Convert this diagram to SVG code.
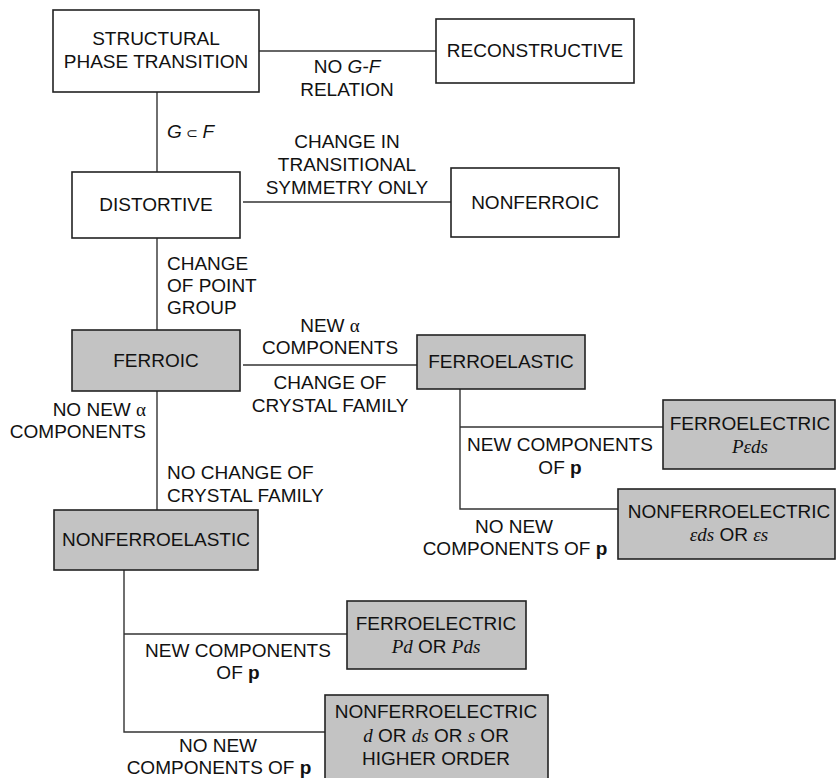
<svg xmlns="http://www.w3.org/2000/svg" width="837" height="778" viewBox="0 0 837 778">
  <style>
    .box { fill: #ffffff; stroke: #222222; stroke-width: 1.6; }
    .shaded { fill: #c3c3c3; stroke: #222222; stroke-width: 1.6; }
    .link { stroke: #333333; stroke-width: 1.4; fill: none; }
    text { font-family: "Liberation Sans", Arial, sans-serif; font-size: 19px; fill: #111111; }
    .mid { text-anchor: middle; }
    .end { text-anchor: end; }
    .math { font-family: "Liberation Serif", "Times New Roman", serif; font-style: italic; }
    .greek { font-family: "Liberation Serif", "Times New Roman", serif; }
    .it { font-style: italic; }
    .bold { font-weight: bold; }
  </style>

  <!-- connectors -->
  <g id="connectors">
    <line class="link" x1="259" y1="51" x2="436" y2="51"/>
    <line class="link" x1="157" y1="92" x2="157" y2="172"/>
    <line class="link" x1="243" y1="202" x2="451" y2="202"/>
    <line class="link" x1="157" y1="238" x2="157" y2="330"/>
    <line class="link" x1="243" y1="365" x2="417" y2="365"/>
    <line class="link" x1="157" y1="391" x2="157" y2="510"/>
    <polyline class="link" points="460,389 460,509 618,509"/>
    <line class="link" x1="460" y1="427" x2="663" y2="427"/>
    <polyline class="link" points="124,570 124,732 325,732"/>
    <line class="link" x1="124" y1="634" x2="347" y2="634"/>
  </g>

  <!-- connector labels -->
  <g id="labels">
    <text class="mid" x="347" y="73">NO <tspan class="it">G-F</tspan></text>
    <text class="mid" x="347" y="96">RELATION</text>

    <text x="167" y="138"><tspan class="it">G</tspan><tspan font-family="DejaVu Sans, sans-serif" font-size="14"> ⊂ </tspan><tspan class="it">F</tspan></text>

    <text class="mid" x="347" y="148">CHANGE IN</text>
    <text class="mid" x="347" y="171">TRANSITIONAL</text>
    <text class="mid" x="347" y="194">SYMMETRY ONLY</text>

    <text x="167" y="270">CHANGE</text>
    <text x="167" y="292">OF POINT</text>
    <text x="167" y="314">GROUP</text>

    <text class="mid" x="330" y="332">NEW <tspan class="greek">α</tspan></text>
    <text class="mid" x="330" y="354">COMPONENTS</text>
    <text class="mid" x="330" y="389">CHANGE OF</text>
    <text class="mid" x="330" y="412">CRYSTAL FAMILY</text>

    <text class="end" x="146" y="416">NO NEW <tspan class="greek">α</tspan></text>
    <text class="end" x="146" y="438">COMPONENTS</text>

    <text x="167" y="479">NO CHANGE OF</text>
    <text x="167" y="502">CRYSTAL FAMILY</text>

    <text class="mid" x="560" y="451">NEW COMPONENTS</text>
    <text class="mid" x="560" y="474">OF <tspan class="bold">p</tspan></text>

    <text class="mid" x="514" y="533">NO NEW</text>
    <text class="mid" x="515" y="555">COMPONENTS OF <tspan class="bold">p</tspan></text>

    <text class="mid" x="238" y="657">NEW COMPONENTS</text>
    <text class="mid" x="238" y="679">OF <tspan class="bold">p</tspan></text>

    <text class="mid" x="218" y="752">NO NEW</text>
    <text class="mid" x="219" y="774">COMPONENTS OF <tspan class="bold">p</tspan></text>
  </g>

  <!-- nodes -->
  <g id="structural">
    <rect class="box" x="53" y="10" width="206" height="82"/>
    <text class="mid" x="156" y="45">STRUCTURAL</text>
    <text class="mid" x="156" y="68">PHASE TRANSITION</text>
  </g>

  <g id="reconstructive">
    <rect class="box" x="436" y="19" width="198" height="64"/>
    <text class="mid" x="535" y="57">RECONSTRUCTIVE</text>
  </g>

  <g id="distortive">
    <rect class="box" x="72" y="172" width="168" height="66"/>
    <text class="mid" x="156" y="211">DISTORTIVE</text>
  </g>

  <g id="nonferroic">
    <rect class="box" x="451" y="168" width="168" height="69"/>
    <text class="mid" x="535" y="209">NONFERROIC</text>
  </g>

  <g id="ferroic">
    <rect class="shaded" x="72" y="330" width="168" height="61"/>
    <text class="mid" x="156" y="367">FERROIC</text>
  </g>

  <g id="ferroelastic">
    <rect class="shaded" x="417" y="335" width="168" height="54"/>
    <text class="mid" x="501" y="368">FERROELASTIC</text>
  </g>

  <g id="ferroelectric-elastic">
    <rect class="shaded" x="663" y="400" width="172" height="69"/>
    <text class="mid" x="750" y="430">FERROELECTRIC</text>
    <text class="mid math" x="750" y="453">Pεds</text>
  </g>

  <g id="nonferroelectric-elastic">
    <rect class="shaded" x="618" y="489" width="217" height="70"/>
    <text class="mid" x="729" y="518">NONFERROELECTRIC</text>
    <text class="mid" x="729" y="541"><tspan class="math">εds</tspan> OR <tspan class="math">εs</tspan></text>
  </g>

  <g id="nonferroelastic">
    <rect class="shaded" x="54" y="510" width="204" height="60"/>
    <text class="mid" x="156" y="546">NONFERROELASTIC</text>
  </g>

  <g id="ferroelectric-nonelastic">
    <rect class="shaded" x="347" y="601" width="179" height="68"/>
    <text class="mid" x="436" y="630">FERROELECTRIC</text>
    <text class="mid" x="436" y="653"><tspan class="math">Pd</tspan> OR <tspan class="math">Pds</tspan></text>
  </g>

  <g id="nonferroelectric-nonelastic">
    <rect class="shaded" x="325" y="695" width="223" height="100"/>
    <text class="mid" x="436" y="718">NONFERROELECTRIC</text>
    <text class="mid" x="436" y="742"><tspan class="math">d</tspan> OR <tspan class="math">ds</tspan> OR <tspan class="math">s</tspan> OR</text>
    <text class="mid" x="436" y="765">HIGHER ORDER</text>
  </g>
</svg>
